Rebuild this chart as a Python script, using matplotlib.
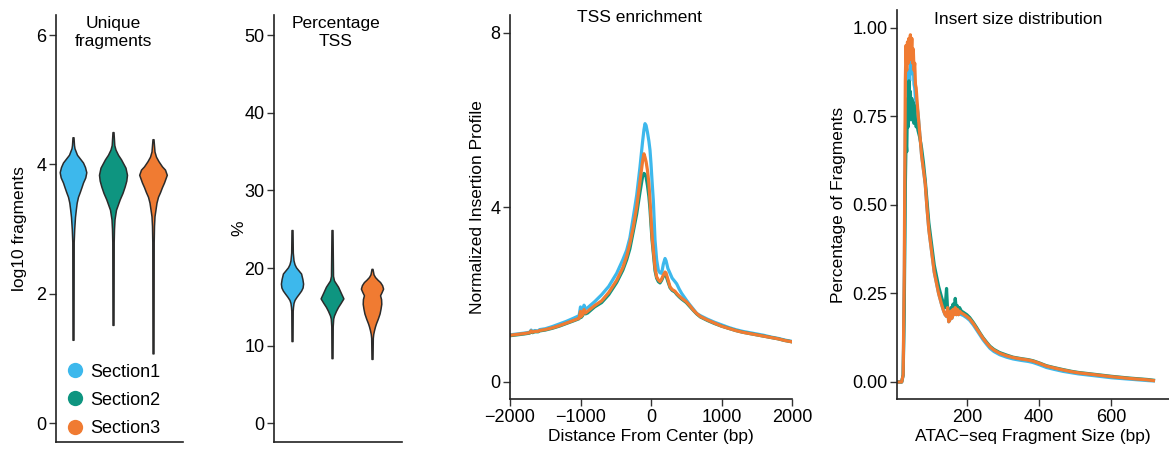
import matplotlib
matplotlib.use("Agg")
import matplotlib.pyplot as plt
from matplotlib.lines import Line2D
import numpy as np

plt.rcParams['font.family'] = ['Liberation Sans', 'DejaVu Sans']

# ---------------- data ----------------
sections = ["Section1", "Section2", "Section3"]
colors = ["#3DB8EC", "#0E9580", "#F07B32"]

# Violin outlines (value, relative density)
frag_y1 = [1.29, 2.8, 3.0, 3.19, 3.3, 3.41, 3.5, 3.57, 3.65, 3.72, 3.8, 3.88, 3.96, 4.03, 4.1, 4.15, 4.19, 4.25, 4.3, 4.42]
frag_d1 = [0.5, 0.7, 1.2, 2.0, 2.8, 3.7, 5.0, 6.7, 8.5, 10.0, 12.3, 13.3, 12.0, 10.0, 6.5, 4.0, 3.0, 1.5, 1.0, 0.5]
frag_y2 = [1.52, 2.8, 3.0, 3.15, 3.3, 3.46, 3.56, 3.66, 3.75, 3.84, 3.95, 4.08, 4.15, 4.23, 4.3, 4.5]
frag_d2 = [0.5, 0.7, 1.0, 1.5, 3.0, 6.7, 9.5, 11.7, 13.3, 14.0, 12.5, 8.0, 5.0, 2.5, 1.3, 0.5]
frag_y3 = [1.08, 2.8, 3.05, 3.2, 3.41, 3.5, 3.57, 3.65, 3.72, 3.84, 3.92, 3.97, 4.05, 4.12, 4.2, 4.39]
frag_d3 = [0.5, 0.7, 1.0, 1.5, 3.5, 5.0, 7.0, 9.0, 11.0, 13.8, 12.0, 9.0, 5.5, 3.0, 1.5, 0.5]

tss_y1 = [10.6, 14.5, 15.0, 15.5, 15.9, 16.3, 16.7, 17.1, 17.5, 18.0, 18.6, 19.3, 19.7, 20.1, 20.5, 21.0, 22.0, 24.9]
tss_d1 = [0.5, 0.7, 1.0, 1.5, 2.5, 4.5, 6.8, 9.0, 10.5, 11.0, 10.3, 9.0, 6.5, 4.0, 2.5, 1.5, 0.8, 0.5]
tss_y2 = [8.4, 12.5, 13.5, 13.9, 14.5, 15.0, 15.5, 16.1, 16.8, 17.6, 18.0, 18.4, 19.0, 24.9]
tss_d2 = [0.5, 0.7, 1.2, 2.0, 4.0, 6.0, 8.5, 11.3, 8.8, 6.0, 4.0, 2.0, 1.0, 0.5]
tss_y3 = [8.3, 11.0, 11.5, 12.0, 12.5, 12.9, 13.5, 14.15, 14.8, 15.4, 16.0, 16.5, 16.9, 17.35, 17.8, 18.2, 18.5, 18.85, 19.2, 19.9]
tss_d3 = [0.5, 0.8, 1.2, 2.0, 3.0, 4.0, 5.8, 7.5, 8.5, 9.2, 9.0, 8.0, 9.5, 11.0, 10.0, 8.0, 5.5, 3.0, 1.5, 0.5]

# TSS enrichment profile
tss_dist = [-2000, -1900, -1800, -1720, -1700, -1680, -1650, -1600, -1580, -1500, -1400, -1300, -1200,
            -1100, -1020, -1000, -990, -970, -950, -930, -900, -800, -700, -600, -487, -400, -345,
            -300, -251, -203, -156, -120, -100, -85, -70, -50, -30, -14, 0, 15, 33, 57, 80, 104,
            128, 151, 175, 199, 213, 240, 270, 300, 340, 364, 400, 435, 500, 550, 600, 648, 700,
            800, 900, 1000, 1100, 1200, 1300, 1400, 1500, 1600, 1700, 1800, 1900, 2000]
tss_s1 = [1.08, 1.10, 1.12, 1.14, 1.19, 1.15, 1.18, 1.17, 1.20, 1.22, 1.27, 1.33, 1.39,
          1.46, 1.52, 1.72, 1.58, 1.62, 1.76, 1.68, 1.70, 1.84, 2.00, 2.19, 2.49, 2.80, 3.02,
          3.30, 3.78, 4.28, 4.93, 5.50, 5.78, 5.92, 5.88, 5.72, 5.52, 5.31, 5.00, 4.60, 4.16, 3.25, 2.80, 2.56,
          2.50, 2.49, 2.70, 2.83, 2.78, 2.60, 2.49, 2.38, 2.30, 2.25, 2.13, 2.03, 1.88, 1.77, 1.67, 1.57, 1.52,
          1.44, 1.37, 1.31, 1.25, 1.20, 1.16, 1.13, 1.10, 1.07, 1.03, 1.00, 0.96, 0.93]
tss_s2 = [1.06, 1.08, 1.10, 1.12, 1.16, 1.13, 1.15, 1.15, 1.17, 1.19, 1.23, 1.28, 1.34,
          1.40, 1.45, 1.58, 1.48, 1.52, 1.62, 1.56, 1.58, 1.72, 1.82, 2.00, 2.28, 2.56, 2.80,
          3.05, 3.45, 3.85, 4.35, 4.70, 4.78, 4.76, 4.70, 4.50, 4.25, 3.95, 3.60, 3.25, 2.95, 2.55, 2.38, 2.30,
          2.27, 2.33, 2.42, 2.46, 2.44, 2.30, 2.16, 2.10, 2.06, 2.01, 1.95, 1.90, 1.82, 1.73, 1.64, 1.56, 1.49,
          1.41, 1.34, 1.28, 1.23, 1.18, 1.14, 1.11, 1.08, 1.05, 1.02, 0.99, 0.95, 0.92]
tss_s3 = [1.07, 1.09, 1.11, 1.13, 1.17, 1.14, 1.16, 1.16, 1.18, 1.20, 1.24, 1.29, 1.35,
          1.41, 1.46, 1.62, 1.50, 1.54, 1.66, 1.58, 1.62, 1.75, 1.86, 2.05, 2.33, 2.62, 2.88,
          3.17, 3.55, 4.01, 4.60, 5.05, 5.23, 5.15, 5.05, 4.85, 4.55, 4.16, 3.75, 3.35, 3.02, 2.62, 2.41, 2.34,
          2.30, 2.36, 2.45, 2.52, 2.50, 2.35, 2.18, 2.12, 2.08, 2.03, 1.97, 1.92, 1.84, 1.75, 1.65, 1.57, 1.50,
          1.42, 1.35, 1.28, 1.23, 1.18, 1.14, 1.11, 1.08, 1.05, 1.02, 0.99, 0.95, 0.92]

# Insert size distribution
ins_size = [10, 20, 24, 27, 30, 32, 34, 36, 38, 40, 42, 44, 46, 48, 50, 52, 54, 56, 58, 60, 62, 65,
            70, 75, 80, 85, 90, 95, 100, 105, 110, 116, 122, 130, 136, 140, 144, 147, 150, 153, 156,
            159, 162, 165, 168, 171, 174, 177, 180, 185, 190, 200, 208, 218, 227, 236, 245, 255, 264,
            275, 291, 310, 328, 350, 370, 383, 400, 420, 440, 466, 490, 508, 550, 600, 650, 700, 716]
ins_s1 = [0.0, 0.0, 0.02, 0.25, 0.70, 0.80, 0.82, 0.86, 0.84, 0.88, 0.85, 0.90, 0.87, 0.92, 0.88, 0.89, 0.84, 0.83, 0.80, 0.79, 0.78, 0.76,
          0.70, 0.64, 0.60, 0.56, 0.49, 0.43, 0.39, 0.35, 0.31, 0.28, 0.25, 0.22, 0.20, 0.19, 0.185, 0.20, 0.17, 0.175, 0.195,
          0.18, 0.20, 0.19, 0.205, 0.19, 0.20, 0.19, 0.195, 0.19, 0.188, 0.181, 0.174, 0.161, 0.147, 0.133, 0.119, 0.106, 0.095,
          0.086, 0.077, 0.070, 0.065, 0.061, 0.058, 0.055, 0.049, 0.041, 0.036, 0.030, 0.026, 0.023, 0.018, 0.012, 0.008, 0.004, 0.003]
ins_s2 = [0.0, 0.0, 0.02, 0.20, 0.55, 0.68, 0.65, 0.80, 0.72, 0.85, 0.75, 0.82, 0.74, 0.80, 0.75, 0.79, 0.73, 0.78, 0.74, 0.72, 0.73, 0.71,
          0.69, 0.66, 0.62, 0.57, 0.51, 0.45, 0.41, 0.37, 0.33, 0.30, 0.27, 0.24, 0.22, 0.21, 0.264, 0.20, 0.19, 0.195, 0.21,
          0.20, 0.22, 0.20, 0.236, 0.205, 0.215, 0.20, 0.21, 0.20, 0.197, 0.19, 0.182, 0.168, 0.154, 0.139, 0.125, 0.112, 0.101,
          0.092, 0.083, 0.076, 0.070, 0.066, 0.063, 0.060, 0.054, 0.046, 0.041, 0.035, 0.030, 0.027, 0.022, 0.016, 0.011, 0.007, 0.005]
ins_s3 = [0.0, 0.0, 0.02, 0.30, 0.85, 0.95, 0.88, 0.96, 0.90, 0.97, 0.91, 0.98, 0.93, 0.97, 0.90, 0.94, 0.88, 0.90, 0.84, 0.83, 0.80, 0.76,
          0.70, 0.64, 0.60, 0.56, 0.49, 0.43, 0.39, 0.35, 0.31, 0.28, 0.25, 0.22, 0.20, 0.19, 0.185, 0.21, 0.17, 0.175, 0.20,
          0.18, 0.205, 0.19, 0.21, 0.19, 0.205, 0.19, 0.20, 0.195, 0.192, 0.185, 0.178, 0.165, 0.151, 0.137, 0.123, 0.110, 0.099,
          0.090, 0.081, 0.074, 0.069, 0.065, 0.062, 0.059, 0.053, 0.045, 0.040, 0.034, 0.029, 0.026, 0.021, 0.015, 0.010, 0.006, 0.004]

# ---------------- figure ----------------
W, H = 1169, 450
fig = plt.figure(figsize=(W / 100, H / 100), dpi=100)

def add_ax(l, r, t, b):
    return fig.add_axes([l / W, 1 - b / H, (r - l) / W, (b - t) / H])

TICK_FS = 13
LAB_FS = 12.5
EDGE = "#2b2b2b"

def style(ax):
    for s in ("top", "right"):
        ax.spines[s].set_visible(False)
    for s in ("left", "bottom"):
        ax.spines[s].set_linewidth(1.2)
        ax.spines[s].set_color("#222222")
    ax.tick_params(axis="both", labelsize=TICK_FS, length=5, width=1.0, color="#333333", pad=2)

def violins(ax, ys, ds, half_width):
    dmax = max(max(d) for d in ds)
    for i, (y, d) in enumerate(zip(ys, ds)):
        y = np.asarray(y)
        w = np.asarray(d) / dmax * half_width
        ax.fill_betweenx(y, (i + 1) - w, (i + 1) + w, facecolor=colors[i],
                         edgecolor=EDGE, linewidth=1.1, zorder=3)

# Panel 1: Unique fragments
ax1 = add_ax(56, 183, 15, 442)
style(ax1)
violins(ax1, [frag_y1, frag_y2, frag_y3], [frag_d1, frag_d2, frag_d3], 0.35)
ax1.set_xlim(0.575, 3.75)
ax1.set_ylim(-0.29, 6.31)
ax1.set_yticks([0, 2, 4, 6])
ax1.set_xticks([])
ax1.set_ylabel("log10 fragments", fontsize=LAB_FS)
ax1.yaxis.set_label_coords(-0.225, 0.5)
ax1.text(2.0, 6.30, "Unique\nfragments", ha="center", va="top", fontsize=LAB_FS, linespacing=1.25)
handles = [Line2D([], [], marker="o", linestyle="none", markersize=11, markerfacecolor=c,
                  markeredgecolor="none") for c in colors]
ax1.legend(handles, sections, loc="lower left", bbox_to_anchor=(0.02, -0.005), frameon=False,
           fontsize=TICK_FS, handlelength=1.0, handletextpad=0.35, labelspacing=0.62,
           borderpad=0.2, borderaxespad=0.2)

# Panel 2: Percentage TSS
ax2 = add_ax(274, 402, 15, 442)
style(ax2)
violins(ax2, [tss_y1, tss_y2, tss_y3], [tss_d1, tss_d2, tss_d3], 0.285)
ax2.set_xlim(0.55, 3.75)
ax2.set_ylim(-2.4, 52.6)
ax2.set_yticks([0, 10, 20, 30, 40, 50])
ax2.set_xticks([])
ax2.set_ylabel("%", fontsize=LAB_FS)
ax2.yaxis.set_label_coords(-0.215, 0.5)
ax2.text(2.1, 52.5, "Percentage\nTSS", ha="center", va="top", fontsize=LAB_FS, linespacing=1.25)

# Panel 3: TSS enrichment
ax3 = add_ax(510, 792, 15, 399)
style(ax3)
for ys, c in zip([tss_s1, tss_s2, tss_s3], colors):
    ax3.plot(tss_dist, ys, color=c, linewidth=2.3, solid_joinstyle="round")
ax3.set_xlim(-2000, 2000)
ax3.set_ylim(-0.39, 8.41)
ax3.set_yticks([0, 4, 8])
ax3.set_xticks([-2000, -1000, 0, 1000, 2000])
ax3.set_xticklabels(["\u22122000", "\u22121000", "0", "1000", "2000"])
ax3.set_xlabel("Distance From Center (bp)", fontsize=LAB_FS, labelpad=2)
ax3.set_ylabel("Normalized Insertion Profile", fontsize=LAB_FS, labelpad=4)
ax3.text(0.46, 1.012, "TSS enrichment", transform=ax3.transAxes, ha="center", va="top", fontsize=LAB_FS)

# Panel 4: Insert size distribution
ax4 = add_ax(897, 1169, 10, 399)
style(ax4)
for ys, c in zip([ins_s1, ins_s2, ins_s3], colors):
    ax4.plot(ins_size, ys, color=c, linewidth=2.3, solid_joinstyle="round")
ax4.set_xlim(7, 759)
ax4.set_ylim(-0.048, 1.05)
ax4.set_yticks([0, 0.25, 0.5, 0.75, 1.0])
ax4.set_yticklabels(["0.00", "0.25", "0.50", "0.75", "1.00"])
ax4.set_xticks([200, 400, 600])
ax4.set_xlabel("ATAC\u2212seq Fragment Size (bp)", fontsize=LAB_FS, labelpad=2)
ax4.set_ylabel("Percentage of Fragments", fontsize=LAB_FS, labelpad=4)
ax4.text(0.445, 0.995, "Insert size distribution", transform=ax4.transAxes, ha="center", va="top", fontsize=LAB_FS)

fig.savefig("out.png", dpi=100)
